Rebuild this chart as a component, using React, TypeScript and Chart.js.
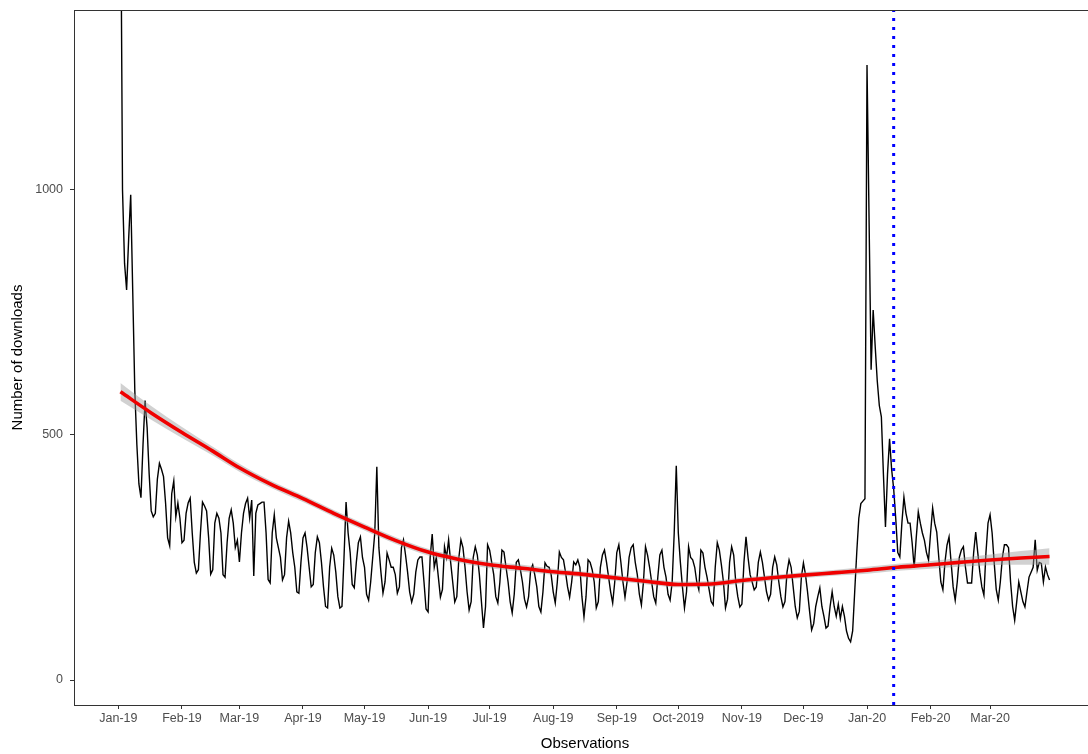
import React, { useEffect, useRef } from "react";
import { Chart, registerables } from "chart.js";

Chart.register(...registerables);

// ---- tick labels (x positions are day indices; day 0 = first observation) ----
const monthTickDays = [-1, 30, 58, 89, 119, 150, 180, 211, 242, 272, 303, 333, 364, 395, 424];
const monthTickLabels = [
  "Jan-19", "Feb-19", "Mar-19", "Apr-19", "May-19", "Jun-19", "Jul-19", "Aug-19",
  "Sep-19", "Oct-2019", "Nov-19", "Dec-19", "Jan-20", "Feb-20", "Mar-20",
];
const yTickValues = [0, 500, 1000];

// ---- daily downloads, month by month ----
const downloadsJan19 = [1700, 1000, 850, 796, 900, 990, 790, 590, 480, 400, 372, 480, 570, 515, 420, 345, 333, 340, 410, 442, 430, 415, 361, 290, 274, 380, 406, 333, 361, 330];
const downloadsFeb19 = [280, 285, 340, 361, 371, 300, 240, 218, 225, 300, 363, 355, 345, 290, 216, 225, 320, 340, 330, 300, 215, 210, 280, 330, 347, 320, 270, 285];
const downloadsMar19 = [241, 300, 340, 360, 371, 330, 367, 212, 340, 357, 360, 363, 363, 300, 205, 198, 300, 337, 290, 270, 250, 204, 215, 290, 324, 300, 260, 230, 180, 177, 240];
const downloadsApr19 = [290, 300, 270, 230, 190, 195, 260, 292, 280, 240, 190, 150, 147, 230, 269, 255, 220, 170, 147, 150, 250, 363, 300, 260, 195, 188, 240, 280, 292, 250];
const downloadsMay19 = [230, 175, 163, 200, 250, 300, 435, 270, 220, 177, 200, 259, 245, 230, 230, 215, 177, 190, 270, 286, 255, 220, 180, 159, 175, 220, 245, 251, 251, 200, 145];
const downloadsJun19 = [139, 250, 298, 230, 250, 210, 169, 185, 272, 250, 286, 240, 200, 159, 170, 250, 286, 270, 230, 180, 143, 160, 250, 272, 255, 215, 160, 106, 150, 276];
const downloadsJul19 = [265, 240, 215, 170, 157, 200, 265, 261, 230, 200, 160, 137, 175, 240, 245, 225, 200, 165, 149, 170, 225, 235, 215, 190, 150, 139, 180, 239, 232, 230, 215];
const downloadsAug19 = [180, 157, 200, 261, 250, 245, 220, 190, 169, 200, 241, 235, 245, 230, 170, 129, 170, 245, 240, 225, 200, 147, 160, 230, 255, 265, 240, 210, 180, 157, 200];
const downloadsSep19 = [260, 276, 240, 200, 169, 200, 250, 270, 276, 240, 215, 175, 153, 200, 272, 255, 230, 200, 170, 157, 210, 255, 265, 230, 210, 175, 163, 200, 300, 437];
const downloadsOct19 = [300, 240, 190, 147, 180, 272, 250, 245, 230, 200, 184, 265, 259, 230, 210, 185, 160, 153, 230, 280, 265, 235, 200, 147, 165, 240, 272, 255, 200, 170, 149];
const downloadsNov19 = [155, 240, 292, 250, 215, 200, 184, 190, 240, 261, 240, 210, 180, 163, 175, 230, 251, 235, 200, 170, 149, 160, 220, 245, 230, 190, 150, 127, 140, 210];
const downloadsDec19 = [239, 215, 180, 140, 102, 115, 150, 170, 188, 150, 130, 106, 110, 150, 180, 150, 130, 155, 125, 150, 130, 100, 85, 78, 100, 180, 260, 330, 360, 365, 370];
const downloadsJan20 = [1255, 940, 633, 755, 680, 610, 560, 537, 420, 312, 420, 492, 430, 390, 330, 260, 251, 320, 373, 340, 320, 320, 280, 229, 290, 343, 320, 300, 285, 260, 245];
const downloadsFeb20 = [300, 351, 320, 302, 250, 200, 184, 240, 275, 292, 240, 190, 163, 200, 250, 265, 272, 230, 198, 198, 198, 260, 302, 260, 220, 190, 173, 260, 320];
const downloadsMar20 = [337, 300, 240, 185, 163, 200, 250, 276, 276, 270, 200, 150, 122, 160, 200, 180, 160, 149, 180, 210, 220, 230, 286, 224, 240, 238, 200, 231, 215, 204];

// ---- smoothed trend (loess fit) and its standard-error band half width ----
const smoothDays = [0, 15, 30, 45, 58, 73, 89, 104, 119, 134, 150, 165, 180, 196, 211, 227, 242, 257, 272, 288, 303, 319, 333, 349, 364, 379, 395, 409, 424, 439, 453];
const smoothFit = [588, 545, 505, 467, 433, 400, 370, 340, 312, 285, 261, 246, 235, 228, 221, 215, 208, 201, 195, 196, 203, 209, 214, 219, 224, 230, 235, 240, 245, 249, 252];
const smoothSe = [18, 14, 11, 9, 8, 7, 7, 7, 7, 7, 7, 7, 7, 7, 6, 6, 6, 6, 6, 6, 6, 6, 6, 6, 7, 7, 8, 9, 11, 14, 17];

// ---- intervention date (vertical dotted line) ----
const interventionDay = 377;

const downloads = [
  ...downloadsJan19, ...downloadsFeb19, ...downloadsMar19, ...downloadsApr19,
  ...downloadsMay19, ...downloadsJun19, ...downloadsJul19, ...downloadsAug19,
  ...downloadsSep19, ...downloadsOct19, ...downloadsNov19, ...downloadsDec19,
  ...downloadsJan20, ...downloadsFeb20, ...downloadsMar20,
];

const Y_MIN = -51;
const Y_MAX = 1367;
const X_PAD = 0.05 * (downloads.length - 1);

const FONT = "'Liberation Sans', Arial, Helvetica, sans-serif";

const panelBorder = {
  id: "panelBorder",
  afterDraw(chart: any) {
    const { ctx, chartArea } = chart;
    ctx.save();
    ctx.strokeStyle = "#333333";
    ctx.lineWidth = 1;
    ctx.strokeRect(
      Math.round(chartArea.left) + 0.5,
      Math.round(chartArea.top) + 0.5,
      Math.round(chartArea.right - chartArea.left),
      Math.round(chartArea.bottom - chartArea.top)
    );
    ctx.restore();
  },
};

export default function App() {
  const canvasRef = useRef<HTMLCanvasElement | null>(null);

  useEffect(() => {
    if (!canvasRef.current) return;
    const series = downloads.map((v, i) => ({ x: i, y: v }));
    const fit = smoothDays.map((d, i) => ({ x: d, y: smoothFit[i] }));
    const upper = smoothDays.map((d, i) => ({ x: d, y: smoothFit[i] + smoothSe[i] }));
    const lower = smoothDays.map((d, i) => ({ x: d, y: smoothFit[i] - smoothSe[i] }));
    const vline = [
      { x: interventionDay, y: Y_MIN },
      { x: interventionDay, y: Y_MAX },
    ];

    const chart = new Chart(canvasRef.current, {
      type: "line",
      data: {
        datasets: [
          {
            label: "intervention",
            data: vline,
            borderColor: "#0000FF",
            borderWidth: 3,
            borderDash: [3, 6],
            pointRadius: 0,
            order: 0,
          },
          {
            label: "trend",
            data: fit,
            borderColor: "#F00000",
            borderWidth: 3.6,
            pointRadius: 0,
            cubicInterpolationMode: "monotone",
            order: 1,
          },
          {
            label: "upper",
            data: upper,
            borderWidth: 0,
            borderColor: "rgba(0,0,0,0)",
            pointRadius: 0,
            cubicInterpolationMode: "monotone",
            fill: false,
            order: 2,
          },
          {
            label: "lower",
            data: lower,
            borderWidth: 0,
            borderColor: "rgba(0,0,0,0)",
            backgroundColor: "rgba(153,153,153,0.45)",
            pointRadius: 0,
            cubicInterpolationMode: "monotone",
            fill: "-1",
            order: 3,
          },
          {
            label: "downloads",
            data: series,
            borderColor: "#000000",
            borderWidth: 1.4,
            pointRadius: 0,
            tension: 0,
            order: 4,
          },
        ],
      },
      options: {
        animation: false,
        responsive: true,
        maintainAspectRatio: false,
        parsing: false as any,
        layout: { padding: { top: 10, right: 4, left: 0, bottom: 0 } },
        plugins: {
          legend: { display: false },
          tooltip: { enabled: false },
        },
        scales: {
          x: {
            type: "linear",
            min: -X_PAD,
            max: downloads.length - 1 + X_PAD,
            afterBuildTicks: (scale: any) => {
              scale.ticks = monthTickDays.map((v) => ({ value: v }));
            },
            afterFit: (scale: any) => {
              scale.height = 49;
              scale.paddingLeft = 0;
              scale.paddingRight = 0;
            },
            ticks: {
              autoSkip: false,
              maxRotation: 0,
              minRotation: 0,
              padding: 2,
              color: "#4D4D4D",
              font: { family: FONT, size: 12.5 },
              callback: (_v: any, i: number) => monthTickLabels[i],
            },
            grid: {
              display: true,
              drawOnChartArea: false,
              drawTicks: true,
              tickLength: 4,
              color: "#333333",
              lineWidth: 1,
            },
            border: { display: true, color: "#333333", width: 1 },
            title: {
              display: true,
              text: "Observations",
              color: "#000000",
              font: { family: FONT, size: 15 },
              padding: { top: 0, bottom: 1 },
            },
          },
          y: {
            type: "linear",
            min: Y_MIN,
            max: Y_MAX,
            afterBuildTicks: (scale: any) => {
              scale.ticks = yTickValues.map((v) => ({ value: v }));
            },
            afterFit: (scale: any) => {
              scale.width = 74;
              scale.paddingTop = 0;
              scale.paddingBottom = 0;
            },
            ticks: {
              padding: 7,
              color: "#4D4D4D",
              font: { family: FONT, size: 12.5 },
              callback: (v: any) => String(v),
            },
            grid: {
              display: true,
              drawOnChartArea: false,
              drawTicks: true,
              tickLength: 4,
              color: "#333333",
              lineWidth: 1,
            },
            border: { display: true, color: "#333333", width: 1 },
            title: {
              display: true,
              text: "Number of downloads",
              color: "#000000",
              font: { family: FONT, size: 15 },
              padding: { top: 9, bottom: 0 },
            },
          },
        },
      },
      plugins: [panelBorder],
    });
    return () => chart.destroy();
  }, []);

  return (
    <div
      style={{
        position: "fixed",
        left: 0,
        top: 0,
        width: 1088,
        height: 754,
        overflow: "hidden",
        background: "#ffffff",
      }}
    >
      <div style={{ position: "absolute", left: 0, top: 0, width: 1100, height: 754 }}>
        <canvas ref={canvasRef} />
      </div>
    </div>
  );
}
